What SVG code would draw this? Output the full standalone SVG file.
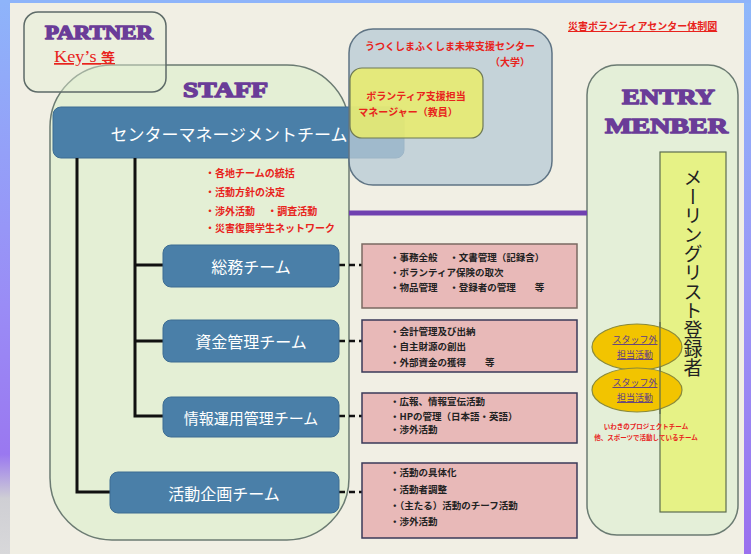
<svg xmlns="http://www.w3.org/2000/svg" width="751" height="554" viewBox="0 0 751 554">
<defs>
<linearGradient id="lg" x1="0" y1="0" x2="0" y2="1">
<stop offset="0" stop-color="#8eb4fa"/>
<stop offset="0.55" stop-color="#9a8cf6"/>
<stop offset="0.82" stop-color="#9a78f0"/>
<stop offset="0.9" stop-color="#cfcfd4"/>
<stop offset="1" stop-color="#d8d8da"/>
</linearGradient>
<linearGradient id="rg" x1="0" y1="0" x2="0" y2="1">
<stop offset="0" stop-color="#8eb8fa"/>
<stop offset="0.5" stop-color="#9a98f6"/>
<stop offset="1" stop-color="#9a70ee"/>
</linearGradient>
<style>
.jp{font-family:"Noto Sans CJK JP","Noto Sans",sans-serif}
.head{font-family:"Liberation Serif","DejaVu Serif",serif;font-weight:bold;fill:#6a3c98;stroke:#6a3c98;stroke-width:1.4;stroke-linejoin:round}
.team{fill:#4a7fa8;stroke:#3d6d92;stroke-width:1}
.tt{font-family:"Noto Sans CJK JP",sans-serif;fill:#ffffff;text-anchor:middle;dominant-baseline:central}
.red{font-family:"Noto Sans CJK JP",sans-serif;fill:#e8231c;font-weight:bold}
.pink{fill:#e8b9b8;stroke-width:1.5}
.bt{font-family:"Noto Sans CJK JP",sans-serif;fill:#222;font-size:9.5px;font-weight:bold}
.tree{stroke:#111;stroke-width:3;fill:none}
.dash{stroke:#111;stroke-width:2.5;stroke-dasharray:6,4;fill:none}
.ell{fill:#f2c400;stroke:#8a8a3a;stroke-width:1.2}
.et{font-family:"Noto Sans CJK JP",sans-serif;fill:#5a3a8a;font-size:9px;text-anchor:middle;text-decoration:underline}
</style>
</defs>
<rect x="0" y="0" width="751" height="554" fill="#f1efe4"/>
<rect x="0" y="0" width="10" height="554" fill="url(#lg)"/>
<rect x="744" y="0" width="7" height="554" fill="url(#rg)"/>
<rect x="0" y="0" width="751" height="3" fill="#8eb4fa"/>

<text class="red" x="568" y="30" font-size="10" text-decoration="underline">災害ボランティアセンター体制図</text>

<g id="staff">
<rect x="50" y="65" width="299" height="475" rx="62" ry="62" fill="#e4efd5" stroke="#6b7b72" stroke-width="1.5"/>
<text class="head" x="183" y="97" font-size="21" textLength="85" lengthAdjust="spacingAndGlyphs">STAFF</text>
</g>

<g id="partner">
<rect x="24" y="12" width="142" height="80" rx="14" ry="14" fill="#e4efd5" fill-opacity="0.45" stroke="#5e6b68" stroke-width="1.5"/>
<text class="head" x="45" y="39" font-size="19" textLength="108" lengthAdjust="spacingAndGlyphs">PARTNER</text>
<text x="54" y="62" font-family="Liberation Serif,serif" font-size="17" fill="#e8231c" text-decoration="underline" textLength="61" lengthAdjust="spacingAndGlyphs">Key’s <tspan class="jp" font-weight="bold" font-size="13">等</tspan></text>
</g>

<g id="entry">
<rect x="587" y="65" width="151" height="470" rx="30" ry="30" fill="#e4efd8" stroke="#6b7b72" stroke-width="1.5"/>
<text class="head" x="622" y="104" font-size="21" textLength="93" lengthAdjust="spacingAndGlyphs">ENTRY</text>
<text class="head" x="605" y="133" font-size="21" textLength="123" lengthAdjust="spacingAndGlyphs">MENBER</text>
</g>

<g id="mailing">
<rect x="660" y="152" width="66" height="360" fill="#e6f286" stroke="#5c6c50" stroke-width="1.2"/>
<text class="jp" x="693" y="168" font-size="19" fill="#222" writing-mode="vertical-rl">メーリングリスト登録者</text>
</g>

<g id="mgmt">
<rect class="team" x="53" y="107" width="351" height="51" rx="8" ry="8"/>
<text class="tt" x="229" y="133" font-size="17">センターマネージメントチーム</text>
</g>

<g id="univ">
<rect x="349" y="29" width="203" height="156" rx="24" ry="24" fill="#b9cad6" fill-opacity="0.78" stroke="#5f7484" stroke-width="1.5"/>
<text class="red" x="450" y="50" font-size="10" text-anchor="middle">うつくしまふくしま未来支援センター</text>
<text class="red" x="530" y="66" font-size="10" text-anchor="end">（大学）</text>
</g>

<g id="manager">
<rect x="350" y="68" width="133" height="70" rx="12" ry="12" fill="#e9ec6a" fill-opacity="0.85" stroke="#6f7a55" stroke-width="1.2"/>
<text class="red" x="416" y="100" font-size="10" text-anchor="middle">ボランティア支援担当</text>
<text class="red" x="408" y="116" font-size="10" text-anchor="middle">マネージャー（教員）</text>
</g>

<g id="mgmt-duties">
<text class="red" font-size="10" x="205" y="177">・各地チームの統括</text>
<text class="red" font-size="10" x="205" y="196">・活動方針の決定</text>
<text class="red" font-size="10" x="205" y="215">・渉外活動　 ・調査活動</text>
<text class="red" font-size="10" x="205" y="232">・災害復興学生ネットワーク</text>
</g>

<g id="connectors">
<line x1="349" y1="213" x2="587" y2="213" stroke="#7040b0" stroke-width="5"/>
<path class="tree" d="M77,158 V492 H110"/>
<path class="tree" d="M135,158 V416 H163 M135,265 H163 M135,341 H163"/>
<path class="dash" d="M339,265 H362 M339,341 H362 M339,416 H362 M339,492 H362"/>
</g>

<g id="soumu">
<rect class="team" x="163" y="245" width="176" height="42" rx="8" ry="8"/>
<text class="tt" x="251" y="266" font-size="16">総務チーム</text>
</g>
<g id="shikin">
<rect class="team" x="163" y="320" width="176" height="42" rx="8" ry="8"/>
<text class="tt" x="251" y="341" font-size="16">資金管理チーム</text>
</g>
<g id="jouhou">
<rect class="team" x="163" y="397" width="176" height="40" rx="8" ry="8"/>
<text class="tt" x="251" y="417" font-size="15">情報運用管理チーム</text>
</g>
<g id="katsudou">
<rect class="team" x="110" y="472" width="229" height="41" rx="8" ry="8"/>
<text class="tt" x="224" y="493" font-size="16">活動企画チーム</text>
</g>

<g id="box-soumu">
<rect class="pink" x="362" y="244" width="215" height="64" stroke="#7a6a62"/>
<text class="bt" x="390" y="261">・事務全般　 ・文書管理（記録含）</text>
<text class="bt" x="390" y="276">・ボランティア保険の取次</text>
<text class="bt" x="390" y="291">・物品管理　 ・登録者の管理　　等</text>
</g>
<g id="box-shikin">
<rect class="pink" x="362" y="320" width="215" height="52" stroke="#3a3a58"/>
<text class="bt" x="390" y="335">・会計管理及び出納</text>
<text class="bt" x="390" y="350">・自主財源の創出</text>
<text class="bt" x="390" y="366">・外部資金の獲得　　等</text>
</g>
<g id="box-jouhou">
<rect class="pink" x="362" y="393" width="215" height="50" stroke="#3a3a58"/>
<text class="bt" x="390" y="405">・広報、情報宣伝活動</text>
<text class="bt" x="390" y="420">・HPの管理（日本語・英語）</text>
<text class="bt" x="390" y="433">・渉外活動</text>
</g>
<g id="box-katsudou">
<rect class="pink" x="362" y="463" width="215" height="75" stroke="#3a3a58"/>
<text class="bt" x="390" y="476">・活動の具体化</text>
<text class="bt" x="390" y="493">・活動者調整</text>
<text class="bt" x="390" y="509">・（主たる）活動のチーフ活動</text>
<text class="bt" x="390" y="525">・渉外活動</text>
</g>

<g id="ellipse1">
<ellipse class="ell" cx="637" cy="347" rx="45" ry="23"/>
<text class="et" x="635" y="343">スタッフ外</text>
<text class="et" x="635" y="358">担当活動</text>
</g>
<g id="ellipse2">
<ellipse class="ell" cx="637" cy="390" rx="45" ry="22"/>
<text class="et" x="635" y="386">スタッフ外</text>
<text class="et" x="635" y="401">担当活動</text>
</g>
<line x1="660" y1="322" x2="660" y2="414" stroke="#5c6c50" stroke-width="1.2"/>

<g id="note">
<text class="red" x="646" y="429" font-size="6.5" text-anchor="middle">いわきのプロジェクトチーム</text>
<text class="red" x="646" y="440" font-size="6.5" text-anchor="middle">他、スポーツで活動しているチーム</text>
</g>
</svg>
